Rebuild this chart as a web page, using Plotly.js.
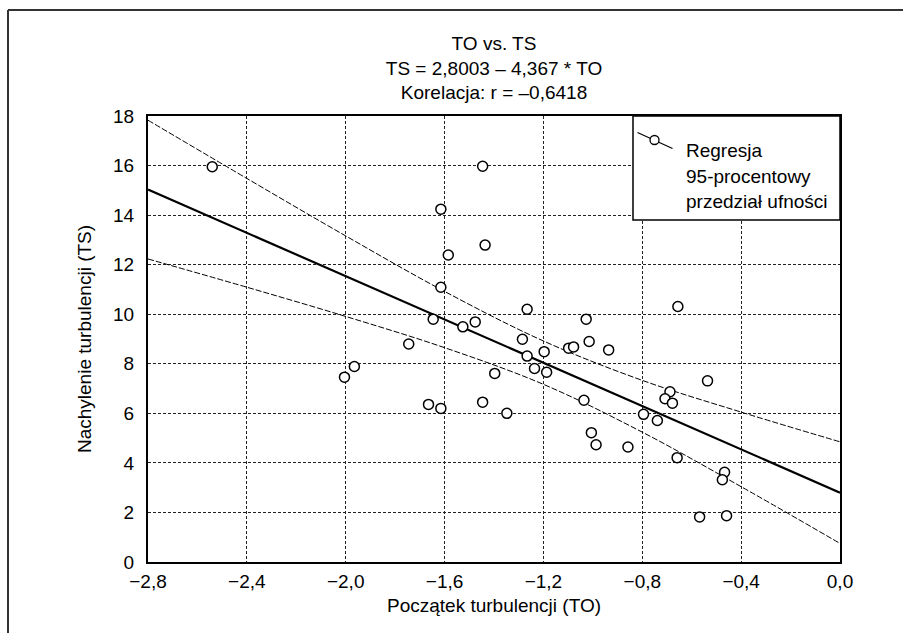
<!DOCTYPE html>
<html>
<head>
<meta charset="utf-8">
<script src="https://cdn.plot.ly/plotly-3.0.1.min.js"></script>
<style>html,body{margin:0;padding:0;background:#fff;}#chart{width:903px;height:633px;}</style>
</head>
<body>
<div id="chart"></div>
<script>
// Observations (TO = początek turbulencji, TS = nachylenie turbulencji)
var toValues = [-2.54, -1.446, -1.615, -1.436, -1.585, -1.615, -1.266, -1.027, -1.646, -1.526,
  -1.476, -1.745, -1.285, -1.015, -0.936, -1.098, -1.078, -1.197, -1.266, -1.236,
  -1.187, -1.397, -1.036, -1.665, -1.615, -1.446, -1.348, -0.795, -1.006, -0.987,
  -0.858, -0.656, -0.536, -0.688, -0.708, -0.678, -0.739, -0.659, -0.467, -0.476,
  -0.568, -0.459, -2.005, -1.965];
var tsValues = [15.95, 15.97, 14.24, 12.79, 12.39, 11.09, 10.2, 9.8, 9.8, 9.49,
  9.69, 8.80, 8.99, 8.90, 8.56, 8.63, 8.68, 8.49, 8.31, 7.81,
  7.66, 7.61, 6.53, 6.36, 6.20, 6.45, 6.0, 5.96, 5.22, 4.73,
  4.64, 10.31, 7.31, 6.87, 6.59, 6.41, 5.71, 4.21, 3.62, 3.32,
  1.82, 1.87, 7.46, 7.89];

// Regression line (TS = 2,8003 – 4,367 * TO) read at the ends of the axis
var regX = [-2.8, 0.0];
var regY = [15.03, 2.80];

// 95% confidence band
var bandX = [-2.8, -2.4, -2.0, -1.6, -1.2, -0.8, -0.4, 0.0];
var bandUpper = [17.83, 15.48, 13.16, 10.92, 8.92, 7.33, 6.05, 4.85];
var bandLower = [12.23, 11.09, 9.91, 8.65, 7.17, 5.24, 3.04, 0.75];

var xTickVals = [-2.8, -2.4, -2.0, -1.6, -1.2, -0.8, -0.4, 0.0];
var yTickVals = [0, 2, 4, 6, 8, 10, 12, 14, 16, 18];

var titleLines = ['TO vs. TS', 'TS = 2,8003 \u2013 4,367 * TO', 'Korelacja: r = \u20130,6418'];
var legendLines = ['Regresja', '95-procentowy', 'przedzia\u0142 ufno\u015bci'];

var FONT = '"Liberation Sans Narrow", "Arial Narrow", "Liberation Sans", Arial, sans-serif';

var traces = [
  {x: bandX, y: bandUpper, mode: 'lines', line: {color: '#000', width: 1, dash: '6px,2px', shape: 'spline'}, showlegend: false, hoverinfo: 'skip'},
  {x: bandX, y: bandLower, mode: 'lines', line: {color: '#000', width: 1, dash: '6px,2px', shape: 'spline'}, showlegend: false, hoverinfo: 'skip'},
  {x: regX, y: regY, mode: 'lines', line: {color: '#000', width: 2.2}, showlegend: false},
  {x: toValues, y: tsValues, mode: 'markers', marker: {symbol: 'circle', size: 10, color: '#fff', line: {color: '#000', width: 1.5}}, showlegend: false}
];

// plot area in px: left 148, right 840, top 116, bottom 562
function px(x) { return (x - 148) / 692; }
function py(y) { return (562 - y) / 446; }

var shapes = [
  // figure frame (top and left)
  {type: 'line', xref: 'paper', yref: 'paper', x0: px(8), x1: px(903), y0: py(10), y1: py(10), line: {color: '#333', width: 2}},
  {type: 'line', xref: 'paper', yref: 'paper', x0: px(8), x1: px(8), y0: py(10), y1: py(640), line: {color: '#333', width: 2}},
  // legend box
  {type: 'rect', xref: 'paper', yref: 'paper', x0: px(633), x1: 1, y0: py(220), y1: 1, fillcolor: '#fff', line: {color: '#000', width: 1.5}, layer: 'above'},
  // legend symbol
  {type: 'line', xref: 'paper', yref: 'paper', x0: px(637.5), y0: py(132.5), x1: px(672.5), y1: py(148.5), line: {color: '#000', width: 1.3}, layer: 'above'},
  {type: 'circle', xref: 'paper', yref: 'paper', x0: px(650), x1: px(659), y0: py(144.5), y1: py(135.5), fillcolor: '#fff', line: {color: '#000', width: 1.3}, layer: 'above'}
];

var legendY = [150, 176, 201];
var annotations = legendLines.map(function (t, i) {
  return {text: t, xref: 'paper', yref: 'paper', x: px(684), y: py(legendY[i]), xanchor: 'left', yanchor: 'middle', showarrow: false, font: {family: FONT, size: 19, color: '#000'}};
});

var layout = {
  width: 903, height: 633,
  paper_bgcolor: '#fff', plot_bgcolor: '#fff',
  separators: ', ',
  font: {family: FONT, size: 18, color: '#000'},
  margin: {l: 148, r: 63, t: 116, b: 71, pad: 0},
  title: {text: titleLines.join('<br>'), x: 494 / 903, xanchor: 'center', y: 1 - 50 / 633, yanchor: 'top', font: {family: FONT, size: 19, color: '#000'}},
  xaxis: {
    range: [-2.8, 0], tickvals: xTickVals, tickformat: '.1f', showgrid: true,
    gridcolor: '#222', gridwidth: 1, griddash: '3px,2px',
    showline: true, linecolor: '#000', linewidth: 2, mirror: true, ticks: '', zeroline: false,
    ticklabelstandoff: 1,
    tickfont: {family: FONT, size: 19},
    title: {text: 'Pocz\u0105tek turbulencji (TO)', font: {family: FONT, size: 19}, standoff: 8}
  },
  yaxis: {
    range: [0, 18], tickvals: yTickVals, showgrid: true,
    gridcolor: '#222', gridwidth: 1, griddash: '3px,2px',
    showline: true, linecolor: '#000', linewidth: 2, mirror: true, ticks: '', zeroline: false,
    ticklabelstandoff: 8,
    tickfont: {family: FONT, size: 19},
    title: {text: 'Nachylenie turbulencji (TS)', font: {family: FONT, size: 19}, standoff: 16}
  },
  shapes: shapes,
  annotations: annotations,
  showlegend: false
};

Plotly.newPlot('chart', traces, layout, {staticPlot: true, displayModeBar: false});
</script>
</body>
</html>
